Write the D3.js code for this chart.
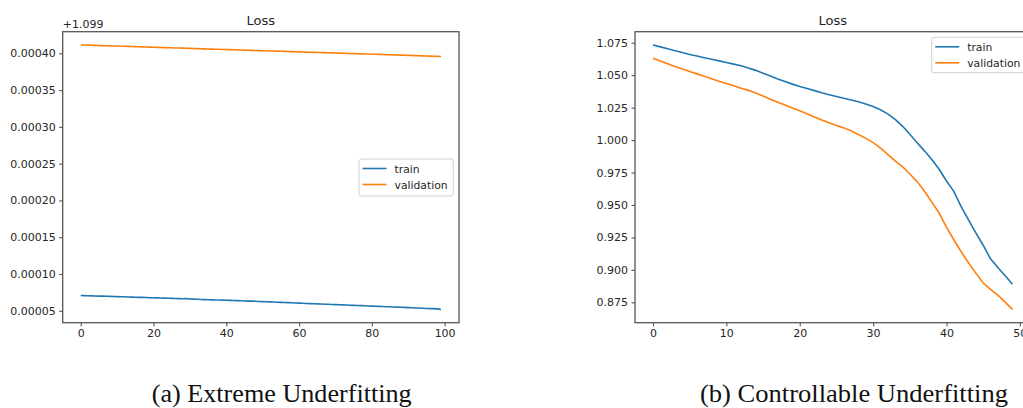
<!DOCTYPE html>
<html>
<head>
<meta charset="utf-8">
<script src="https://cdn.jsdelivr.net/npm/d3@7"></script>
<style>
  html, body { margin: 0; padding: 0; background: #fff; }
  svg { display: block; }
</style>
</head>
<body>
<svg id="chart" width="1023" height="408"></svg>
<script>
// ---- Panel (a): loss stays flat, values shown as offsets from 1.099 ----
const lossOffsetA = 1.099;
const trainA = [
  7.08e-5, 7.06e-5, 7.05e-5, 7.03e-5, 7.02e-5, 7.00e-5, 6.99e-5, 6.97e-5, 6.96e-5, 6.94e-5,
  6.93e-5, 6.91e-5, 6.90e-5, 6.88e-5, 6.86e-5, 6.85e-5, 6.83e-5, 6.82e-5, 6.80e-5, 6.78e-5,
  6.77e-5, 6.75e-5, 6.73e-5, 6.72e-5, 6.71e-5, 6.69e-5, 6.67e-5, 6.65e-5, 6.64e-5, 6.65e-5,
  6.60e-5, 6.58e-5, 6.56e-5, 6.54e-5, 6.52e-5, 6.51e-5, 6.49e-5, 6.47e-5, 6.46e-5, 6.45e-5,
  6.44e-5, 6.42e-5, 6.40e-5, 6.38e-5, 6.36e-5, 6.34e-5, 6.32e-5, 6.31e-5, 6.29e-5, 6.27e-5,
  6.25e-5, 6.23e-5, 6.21e-5, 6.19e-5, 6.17e-5, 6.15e-5, 6.13e-5, 6.11e-5, 6.09e-5, 6.06e-5,
  6.04e-5, 6.02e-5, 6.00e-5, 5.98e-5, 5.96e-5, 5.94e-5, 5.92e-5, 5.90e-5, 5.88e-5, 5.86e-5,
  5.84e-5, 5.82e-5, 5.80e-5, 5.78e-5, 5.76e-5, 5.74e-5, 5.72e-5, 5.70e-5, 5.68e-5, 5.66e-5,
  5.64e-5, 5.62e-5, 5.60e-5, 5.58e-5, 5.56e-5, 5.54e-5, 5.52e-5, 5.50e-5, 5.48e-5, 5.46e-5,
  5.43e-5, 5.41e-5, 5.39e-5, 5.37e-5, 5.34e-5, 5.31e-5, 5.29e-5, 5.30e-5, 5.26e-5, 5.18e-5
];
const validationA = [
  4.1140e-4, 4.1125e-4, 4.1110e-4, 4.1095e-4, 4.1080e-4, 4.1063e-4, 4.1047e-4, 4.1031e-4, 4.1016e-4, 4.1000e-4,
  4.0984e-4, 4.0969e-4, 4.0953e-4, 4.0937e-4, 4.0921e-4, 4.0906e-4, 4.0890e-4, 4.0874e-4, 4.0858e-4, 4.0843e-4,
  4.0827e-4, 4.0811e-4, 4.0795e-4, 4.0780e-4, 4.0764e-4, 4.0748e-4, 4.0732e-4, 4.0717e-4, 4.0701e-4, 4.0685e-4,
  4.0669e-4, 4.0654e-4, 4.0638e-4, 4.0622e-4, 4.0606e-4, 4.0591e-4, 4.0575e-4, 4.0559e-4, 4.0543e-4, 4.0528e-4,
  4.0512e-4, 4.0496e-4, 4.0480e-4, 4.0465e-4, 4.0449e-4, 4.0433e-4, 4.0417e-4, 4.0402e-4, 4.0386e-4, 4.0370e-4,
  4.0354e-4, 4.0339e-4, 4.0323e-4, 4.0307e-4, 4.0291e-4, 4.0276e-4, 4.0260e-4, 4.0244e-4, 4.0228e-4, 4.0213e-4,
  4.0197e-4, 4.0181e-4, 4.0165e-4, 4.0150e-4, 4.0134e-4, 4.0118e-4, 4.0102e-4, 4.0087e-4, 4.0071e-4, 4.0055e-4,
  4.0039e-4, 4.0024e-4, 4.0008e-4, 3.9992e-4, 3.9976e-4, 3.9961e-4, 3.9945e-4, 3.9929e-4, 3.9913e-4, 3.9898e-4,
  3.9882e-4, 3.9866e-4, 3.9850e-4, 3.9835e-4, 3.9819e-4, 3.9803e-4, 3.9787e-4, 3.9772e-4, 3.9756e-4, 3.9740e-4,
  3.9722e-4, 3.9705e-4, 3.9688e-4, 3.9671e-4, 3.9654e-4, 3.9637e-4, 3.9620e-4, 3.9603e-4, 3.9586e-4, 3.9560e-4
];
const xTicksA = [0, 20, 40, 60, 80, 100];
const yTicksA = [0.00005, 0.00010, 0.00015, 0.00020, 0.00025, 0.00030, 0.00035, 0.00040];

// ---- Panel (b): loss keeps falling over 50 epochs ----
const trainB = [
  1.0733, 1.0718, 1.0703, 1.0688, 1.0674, 1.0660, 1.0647, 1.0634, 1.0622, 1.0610,
  1.0598, 1.0585, 1.0572, 1.0556, 1.0537, 1.0515, 1.0493, 1.0471, 1.0451, 1.0431,
  1.0413, 1.0397, 1.0381, 1.0364, 1.0349, 1.0335, 1.0322, 1.0309, 1.0295, 1.0278,
  1.0258, 1.0234, 1.0202, 1.0160, 1.0108, 1.0045, 0.9980, 0.9917, 0.9850, 0.9775,
  0.9685, 0.9605, 0.9488, 0.9385, 0.9285, 0.9190, 0.9085, 0.9018, 0.8955, 0.8890
];
const validationB = [
  1.0630, 1.0609, 1.0588, 1.0567, 1.0547, 1.0528, 1.0510, 1.0492, 1.0473, 1.0454,
  1.0436, 1.0418, 1.0400, 1.0383, 1.0362, 1.0339, 1.0315, 1.0292, 1.0270, 1.0247,
  1.0225, 1.0203, 1.0178, 1.0155, 1.0133, 1.0113, 1.0094, 1.0071, 1.0043, 1.0013,
  0.9980, 0.9938, 0.9890, 0.9840, 0.9795, 0.9739, 0.9680, 0.9606, 0.9522, 0.9438,
  0.9330, 0.9232, 0.9140, 0.9055, 0.8975, 0.8899, 0.8850, 0.8805, 0.8752, 0.8695
];
const xTicksB = [0, 10, 20, 30, 40, 50];
const yTicksB = [0.875, 0.900, 0.925, 0.950, 0.975, 1.000, 1.025, 1.050, 1.075];

const seriesNames = ["train", "validation"];
const seriesColors = ["#1f77b4", "#ff7f0e"];
const captions = ["(a) Extreme Underfitting", "(b) Controllable Underfitting"];

const svg = d3.select("#chart");
const tickFont = "DejaVu Sans, sans-serif";
const frameColor = "#555";
const textColor = "#262626";

// matplotlib-like 5% autoscale margin
function padded(extent) {
  const span = extent[1] - extent[0];
  return [extent[0] - 0.05 * span, extent[1] + 0.05 * span];
}

function drawPanel(opt) {
  const { left, right, top, bottom } = opt.box;
  const n = opt.series[0].length;
  const x = d3.scaleLinear().domain(padded([0, n - 1])).range([left, right]);
  const all = opt.series.flat();
  const y = d3.scaleLinear().domain(padded(d3.extent(all))).range([bottom, top]);

  const g = svg.append("g");

  // series lines
  const line = d3.line().x((d, i) => x(i)).y(d => y(d));
  opt.series.forEach((s, k) => {
    g.append("path")
      .datum(s)
      .attr("fill", "none")
      .attr("stroke", seriesColors[k])
      .attr("stroke-width", 1.6)
      .attr("stroke-linejoin", "round")
      .attr("d", line);
  });

  // axes
  const xAxis = d3.axisBottom(x).tickValues(opt.xTicks).tickSize(3.5).tickPadding(3.5)
    .tickFormat(d3.format("d"));
  const yAxis = d3.axisLeft(y).tickValues(opt.yTicks).tickSize(3.5).tickPadding(3.5)
    .tickFormat(opt.yFormat);

  const gx = g.append("g").attr("transform", `translate(0,${bottom})`).call(xAxis);
  const gy = g.append("g").attr("transform", `translate(${left},0)`).call(yAxis);
  [gx, gy].forEach(ax => {
    ax.select(".domain").remove();
    ax.selectAll(".tick line").attr("stroke", frameColor).attr("stroke-width", 1.1);
    ax.selectAll(".tick text")
      .attr("fill", textColor)
      .style("font-family", tickFont)
      .style("font-size", "11px");
  });

  // frame
  g.append("rect")
    .attr("x", left).attr("y", top)
    .attr("width", right - left).attr("height", bottom - top)
    .attr("fill", "none")
    .attr("stroke", frameColor)
    .attr("stroke-width", 1.3);

  // title
  g.append("text")
    .attr("x", (left + right) / 2).attr("y", 25)
    .attr("text-anchor", "middle")
    .attr("fill", textColor)
    .style("font-family", tickFont)
    .style("font-size", "13px")
    .text("Loss");

  if (opt.offsetText) {
    g.append("text")
      .attr("x", left).attr("y", 28)
      .attr("fill", textColor)
      .style("font-family", tickFont)
      .style("font-size", "11px")
      .text(opt.offsetText);
  }

  // legend
  const lg = opt.legend;
  const leg = g.append("g");
  leg.append("rect")
    .attr("x", lg.x).attr("y", lg.y)
    .attr("width", lg.w).attr("height", lg.h)
    .attr("rx", 2.5)
    .attr("fill", "rgba(255,255,255,0.8)")
    .attr("stroke", "#d0d0d0")
    .attr("stroke-width", 1);
  seriesNames.forEach((name, k) => {
    const cy = lg.y + 9.5 + k * 16;
    leg.append("line")
      .attr("x1", lg.x + 3.5).attr("x2", lg.x + 27.5)
      .attr("y1", cy).attr("y2", cy)
      .attr("stroke", seriesColors[k])
      .attr("stroke-width", 1.6);
    leg.append("text")
      .attr("x", lg.x + 35.5).attr("y", cy + 4)
      .attr("fill", textColor)
      .style("font-family", tickFont)
      .style("font-size", "10.8px")
      .text(name);
  });

  // caption
  svg.append("text")
    .attr("x", opt.caption.x).attr("y", 402)
    .attr("text-anchor", "middle")
    .attr("textLength", opt.caption.w)
    .attr("lengthAdjust", "spacingAndGlyphs")
    .attr("fill", "#111")
    .style("font-family", "Liberation Serif, Times New Roman, serif")
    .style("font-size", "25px")
    .text(opt.caption.text);
}

drawPanel({
  box: { left: 62.7, right: 459, top: 31.7, bottom: 322.7 },
  series: [trainA, validationA],
  xTicks: xTicksA,
  yTicks: yTicksA,
  yFormat: d3.format(".5f"),
  offsetText: "+" + lossOffsetA.toFixed(3),
  legend: { x: 359, y: 159, w: 94.3, h: 37 },
  caption: { x: 281.7, w: 260, text: captions[0] }
});

drawPanel({
  box: { left: 635, right: 1030.5, top: 31.7, bottom: 322.7 },
  series: [trainB, validationB],
  xTicks: xTicksB,
  yTicks: yTicksB,
  yFormat: d3.format(".3f"),
  offsetText: null,
  legend: { x: 931.7, y: 37.3, w: 94, h: 35.4 },
  caption: { x: 854, w: 308, text: captions[1] }
});
</script>
</body>
</html>
